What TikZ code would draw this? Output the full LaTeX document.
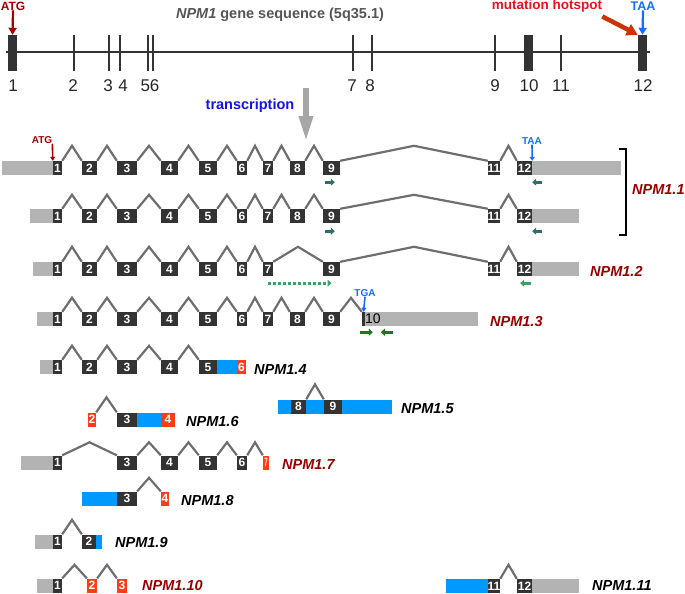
\documentclass[tikz,border=0pt]{standalone}
\usepackage{fontspec}
\setmainfont{Liberation Sans}
\usetikzlibrary{arrows.meta,calc,positioning}

\definecolor{exdark}{RGB}{51,51,51}
\definecolor{utrgray}{RGB}{179,179,179}
\definecolor{cdsblue}{RGB}{0,153,255}
\definecolor{hotred}{RGB}{255,60,20}
\definecolor{introngray}{RGB}{110,110,110}
\definecolor{isored}{RGB}{153,0,0}
\definecolor{atgred}{RGB}{165,0,0}
\definecolor{taablue}{RGB}{20,110,255}
\definecolor{trblue}{RGB}{20,20,230}
\definecolor{mutred}{RGB}{232,20,26}
\definecolor{mutarrow}{RGB}{204,51,0}
\definecolor{primteal}{RGB}{47,110,105}
\definecolor{primgreen}{RGB}{58,160,100}
\definecolor{primdark}{RGB}{26,122,26}
\definecolor{titlegray}{RGB}{85,85,85}
\definecolor{trgray}{RGB}{166,166,166}

\tikzset{
  exon/.style={rectangle, fill=exdark, text=white, inner sep=0pt, minimum height=14pt,
    font=\bfseries\fontsize{12}{12}\selectfont},
  hot/.style={exon, fill=hotred},
  utr/.style={rectangle, fill=utrgray, inner sep=0pt, minimum height=14pt},
  cds/.style={utr, fill=cdsblue},
  intron/.style={draw=introngray, line width=2.2pt},
  isoform/.style={anchor=west, inner sep=0pt, font=\bfseries\itshape\fontsize{14.5}{14.5}\selectfont},
  gtick/.style={rectangle, fill=exdark, inner sep=0pt, minimum width=2.2pt, minimum height=36pt},
  gnum/.style={inner sep=0pt, font=\fontsize{17}{17}\selectfont, text=black!85},
  primer/.style={line width=3pt, -{Triangle[length=4pt,width=7pt]}},
  tag/.style={inner sep=0pt, font=\bfseries\fontsize{10}{10}\selectfont},
}
\newcommand{\intron}[3][14]{\draw[intron] (#2.north east) -- ($(#2.north east)!.5!(#3.north west)+(0,-#1)$) -- (#3.north west);}
\def\exonsall{1/57.5/9,2/89.5/15,3/127/20,4/169.5/17,5/208/18,6/242/10,7/268/10,8/297.5/15,9/331.5/17}

\begin{document}
\begin{tikzpicture}[x=1pt,y=-1pt]
\useasboundingbox (0,0) rectangle (685,594);

% gene sequence
\coordinate (gs) at (6,52);
\coordinate (ge) at (650,52);
\draw[line width=1.6pt, exdark] (gs) -- (ge);
\node[gtick, minimum width=9pt] (g1) at (12.5,53) {};
\node[gtick] (g2) at (74,53) {};
\node[gtick] (g3) at (109,53) {};
\node[gtick] (g4) at (120,53) {};
\node[gtick] (g5) at (148,53) {};
\node[gtick] (g6) at (153,53) {};
\node[gtick] (g7) at (353,53) {};
\node[gtick] (g8) at (372,53) {};
\node[gtick] (g9) at (495,53) {};
\node[gtick, minimum width=9pt] (g10) at (528.5,53) {};
\node[gtick] (g11) at (561,53) {};
\node[gtick, minimum width=9pt] (g12) at (642.5,53) {};

\node[gnum] at (13,86) {1};
\node[gnum] at (73,86) {2};
\node[gnum] at (108,86) {3};
\node[gnum] at (123,86) {4};
\node[gnum] at (150,86) {56};
\node[gnum] at (352,86) {7};
\node[gnum] at (370,86) {8};
\node[gnum] at (495,86) {9};
\node[gnum] at (529,86) {10};
\node[gnum] at (561,86) {11};
\node[gnum] at (643,86) {12};

\node[inner sep=0pt, text=titlegray, font=\bfseries\fontsize{14.5}{14.5}\selectfont] (title) at (280,15) {\textit{NPM1} gene sequence (5q35.1)};
\node[inner sep=0pt, text=atgred, font=\bfseries\fontsize{12}{12}\selectfont] (atg) at (13,6) {ATG};
\draw[atgred, line width=2.2pt, -{Triangle[length=7pt,width=8pt]}] (atg.south) -- (g1.north);
\node[inner sep=0pt, text=taablue, font=\bfseries\fontsize{12.5}{12.5}\selectfont] (taa) at (643,6) {TAA};
\draw[taablue, line width=2.2pt, -{Triangle[length=7pt,width=8pt]}] (taa.south) -- (g12.north);
\node[inner sep=0pt, text=mutred, font=\bfseries\fontsize{13.5}{13.5}\selectfont] (hotspot) at (547,6) {mutation hotspot};
\draw[mutarrow, line width=4.5pt, -{Triangle[length=11pt,width=12pt]}] ([yshift=-4pt]hotspot.south east) -- (g12.north west);

% transcription
\node[inner sep=0pt, text=trblue, font=\bfseries\fontsize{14.5}{14.5}\selectfont] (trans) at (250,106) {transcription};
\coordinate (trs) at (306,88);
\coordinate (tre) at (306,142);
\draw[trgray, line width=6pt, -{Triangle[length=26pt,width=13pt]}] (trs) -- (tre);

% NPM1.1 (long)
\node[utr, minimum width=51pt] (iso1au5) at (27.5,168) {};
\node[utr, minimum width=89pt] (iso1au3) at (576.5,168) {};
\foreach \n/\c/\w in \exonsall
  \node[exon, minimum width=\w pt] (iso1ae\n) at (\c,168) {\makebox[0pt]{\n}};
\node[exon, minimum width=12pt] (iso1ae11) at (494,168) {\makebox[0pt]{11}};
\node[exon, minimum width=15pt] (iso1ae12) at (524.5,168) {\makebox[0pt]{12}};
\foreach \a/\b in {1/2,2/3,3/4,4/5,5/6,6/7,7/8,8/9,9/11,11/12}
  {\intron[15]{iso1ae\a}{iso1ae\b}}
\node[tag, text=atgred] (iso1aatg) at (42,140) {ATG};
\draw[atgred, line width=1.6pt, -{Triangle[length=4pt,width=5pt]}] (iso1aatg.south east) -- (iso1ae1.north west);
\node[tag, text=taablue] (iso1ataa) at (532,141) {TAA};
\draw[taablue, line width=1.6pt, -{Triangle[length=4pt,width=5pt]}] (iso1ataa.south) -- (iso1ae12.north east);
\draw[primer, primteal] ($(iso1ae9.south west)+(2,7)$) -- ++(10,0);
\draw[primer, primteal] ($(iso1ae12.south east)+(10,7)$) -- ++(-10,0);

% NPM1.1 (short)
\node[utr, minimum width=23pt] (iso1bu5) at (41.5,216) {};
\node[utr, minimum width=47pt] (iso1bu3) at (555.5,216) {};
\foreach \n/\c/\w in \exonsall
  \node[exon, minimum width=\w pt] (iso1be\n) at (\c,216) {\makebox[0pt]{\n}};
\node[exon, minimum width=12pt] (iso1be11) at (494,216) {\makebox[0pt]{11}};
\node[exon, minimum width=15pt] (iso1be12) at (524.5,216) {\makebox[0pt]{12}};
\foreach \a/\b in {1/2,2/3,3/4,4/5,5/6,6/7,7/8,8/9,9/11,11/12}
  {\intron[14]{iso1be\a}{iso1be\b}}
\draw[primer, primteal] ($(iso1be9.south west)+(2,8)$) -- ++(10,0);
\draw[primer, primteal] ($(iso1be12.south east)+(10,8)$) -- ++(-10,0);

\draw[line width=1.2pt] (619,149) -| (626,235) -- (619,235);
\node[isoform, text=isored] (lab1) at (632,190) {NPM1.1};

% NPM1.2
\node[utr, minimum width=20pt] (iso2u5) at (43,269) {};
\node[utr, minimum width=47pt] (iso2u3) at (555.5,269) {};
\foreach \n/\c/\w in {1/57.5/9,2/89.5/15,3/127/20,4/169.5/17,5/208/18,6/242/10,7/268/10,9/331.5/17,11/494/12,12/524.5/15}
  \node[exon, minimum width=\w pt] (iso2e\n) at (\c,269) {\makebox[0pt]{\n}};
\foreach \a/\b in {1/2,2/3,3/4,4/5,5/6,6/7,7/9,9/11,11/12}
  {\intron[15]{iso2e\a}{iso2e\b}}
\draw[primer, primgreen, dash pattern=on 3pt off 2pt] (iso2e7.south) ++(0,7) -- ($(iso2e9.south)+(0,7)$);
\draw[primer, primgreen] ($(iso2e12.south east)+(-1,7)$) -- ++(-11,0);
\node[isoform, text=isored] (lab2) at (590,271) {NPM1.2};

% NPM1.3
\node[utr, minimum width=16pt] (iso3u5) at (45,319) {};
\foreach \n/\c/\w in \exonsall
  \node[exon, minimum width=\w pt] (iso3e\n) at (\c,319) {\makebox[0pt]{\n}};
\node[utr, minimum width=113pt] (iso3u3) at (421.5,319) {};
\node[exon, minimum width=3pt] (iso3e10) at (363.5,319) {};
\node[anchor=west, inner sep=0pt, font=\fontsize{14}{14}\selectfont] (iso3t10) at (iso3u3.west) {10};
\foreach \a/\b in {1/2,2/3,3/4,4/5,5/6,6/7,7/8,8/9,9/10}
  {\intron{iso3e\a}{iso3e\b}}
\node[tag, text=taablue] (iso3tga) at (365,293) {TGA};
\draw[taablue, line width=1.6pt, -{Triangle[length=4pt,width=5pt]}] (iso3tga.south) -- (iso3e10.north);
\draw[primer, primdark] ($(iso3e10.south west)+(-2,6)$) -- ++(13,0);
\draw[primer, primdark] ($(iso3e10.south west)+(31,6)$) -- ++(-12,0);
\node[isoform, text=isored] (lab3) at (490,322) {NPM1.3};

% NPM1.4
\node[utr, minimum width=13pt] (iso4u5) at (46.5,367) {};
\foreach \n/\c/\w in {1/57.5/9,2/89.5/15,3/127/20,4/169.5/17,5/208/18}
  \node[exon, minimum width=\w pt] (iso4e\n) at (\c,367) {\makebox[0pt]{\n}};
\node[cds, minimum width=20pt] (iso4c) at (227,367) {};
\node[hot, minimum width=9pt] (iso4e6) at (241.5,367) {\makebox[0pt]{6}};
\foreach \a/\b in {1/2,2/3,3/4,4/5}
  {\intron{iso4e\a}{iso4e\b}}
\node[isoform] (lab4) at (254,370) {NPM1.4};

% NPM1.5
\node[cds, minimum width=114pt] (iso5c) at (335,406.5) {};
\node[exon, minimum width=15pt] (iso5e8) at (298.5,406.5) {\makebox[0pt]{8}};
\node[exon, minimum width=18pt] (iso5e9) at (333,406.5) {\makebox[0pt]{9}};
\intron[15]{iso5e8}{iso5e9}
\node[isoform] (lab5) at (401,409) {NPM1.5};

% NPM1.6
\node[hot, minimum width=8pt] (iso6e2) at (92,419.5) {\makebox[0pt]{2}};
\node[exon, minimum width=20pt] (iso6e3) at (127,419.5) {\makebox[0pt]{3}};
\node[cds, minimum width=24pt] (iso6c) at (149,419.5) {};
\node[hot, minimum width=14pt] (iso6e4) at (168,419.5) {\makebox[0pt]{4}};
\intron[15]{iso6e2}{iso6e3}
\node[isoform] (lab6) at (186,422) {NPM1.6};

% NPM1.7
\node[utr, minimum width=32pt] (iso7u5) at (37,462.5) {};
\foreach \n/\c/\w in {1/57.5/9,3/127/20,4/169.5/17,5/208/18,6/242/10}
  \node[exon, minimum width=\w pt] (iso7e\n) at (\c,462.5) {\makebox[0pt]{\n}};
\node[hot, minimum width=6pt] (iso7e7) at (266,462.5) {\makebox[0pt]{\scalebox{0.5}[1]{7}}};
\foreach \a/\b in {1/3,3/4,4/5,5/6,6/7}
  {\intron[13]{iso7e\a}{iso7e\b}}
\node[isoform, text=isored] (lab7) at (282,465) {NPM1.7};

% NPM1.8
\node[cds, minimum width=35pt] (iso8c) at (99.5,498.5) {};
\node[exon, minimum width=20pt] (iso8e3) at (127,498.5) {\makebox[0pt]{3}};
\node[hot, minimum width=8pt] (iso8e4) at (165,498.5) {\makebox[0pt]{4}};
\intron[13.5]{iso8e3}{iso8e4}
\node[isoform] (lab8) at (181,501) {NPM1.8};

% NPM1.9
\node[utr, minimum width=18pt] (iso9u5) at (44,541.5) {};
\node[exon, minimum width=9pt] (iso9e1) at (57.5,541.5) {\makebox[0pt]{1}};
\node[exon, minimum width=14pt] (iso9e2) at (89,541.5) {\makebox[0pt]{2}};
\node[cds, minimum width=6pt] (iso9c) at (99,541.5) {};
\intron[14.5]{iso9e1}{iso9e2}
\node[isoform] (lab9) at (115,543) {NPM1.9};

% NPM1.10
\node[utr, minimum width=16pt] (iso10u5) at (45,585.5) {};
\node[exon, minimum width=9pt] (iso10e1) at (57.5,585.5) {\makebox[0pt]{1}};
\node[hot, minimum width=10pt] (iso10e2) at (92,585.5) {\makebox[0pt]{2}};
\node[hot, minimum width=10pt] (iso10e3) at (122,585.5) {\makebox[0pt]{3}};
\intron[13.5]{iso10e1}{iso10e2}
\intron[13.5]{iso10e2}{iso10e3}
\node[isoform, text=isored] (lab10) at (142,585.5) {NPM1.10};

% NPM1.11
\node[cds, minimum width=42pt] (iso11c) at (467,586) {};
\node[exon, minimum width=12pt] (iso11e11) at (494,586) {\makebox[0pt]{11}};
\node[exon, minimum width=15pt] (iso11e12) at (524.5,586) {\makebox[0pt]{12}};
\node[utr, minimum width=47pt] (iso11u3) at (555.5,586) {};
\intron{iso11e11}{iso11e12}
\node[isoform] (lab11) at (592,585.5) {NPM1.11};

\end{tikzpicture}
\end{document}
